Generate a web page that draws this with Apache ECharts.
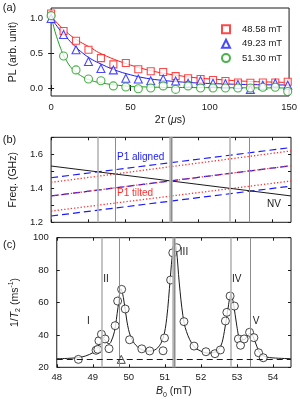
<!DOCTYPE html>
<html><head><meta charset="utf-8">
<script src="https://cdn.jsdelivr.net/npm/echarts@6/dist/echarts.min.js"></script>
<style>html,body{margin:0;padding:0;background:#fff}#c{width:300px;height:403px}</style>
</head><body><div id="c"></div>
<script>
// ---------- Panel (a): PL decay ----------
const tau = [0, 7.85, 15.7, 23.55, 31.4, 39.25, 47.1, 54.95, 62.8, 70.65, 78.5, 86.35, 94.2, 102.05, 109.9, 117.75, 125.6, 133.45, 141.3, 149.15];
const pl4858 = [1.07, 0.82, 0.68, 0.55, 0.43, 0.34, 0.36, 0.27, 0.24, 0.23, 0.17, 0.14, 0.13, 0.115, 0.10, 0.08, 0.076, 0.08, 0.08, 0.09];
const pl4923 = [1.0, 0.77, 0.55, 0.38, 0.28, 0.26, 0.14, 0.13, 0.105, 0.13, 0.10, 0.07, 0.105, 0.07, 0.06, 0.05, -0.02, 0.04, 0.07, 0.04];
const pl5130 = [1.04, 0.46, 0.26, 0.13, 0.105, 0.03, 0.015, -0.01, 0.0, 0.03, -0.02, 0.03, 0.0, 0.0, 0.0, 0.0, 0.0, 0.01, 0.01, -0.05];
const fitTau  = [0, 2, 4, 6, 8, 10, 12, 15, 20, 25, 30, 40, 50, 60, 70, 80, 90, 100, 110, 120, 130, 140, 150];
const fit4858 = [1.03, 0.98, 0.93, 0.88, 0.84, 0.80, 0.76, 0.71, 0.64, 0.58, 0.51, 0.41, 0.33, 0.265, 0.215, 0.18, 0.15, 0.13, 0.115, 0.10, 0.09, 0.085, 0.08];
const fit4923 = [1.0, 0.94, 0.88, 0.82, 0.77, 0.72, 0.67, 0.60, 0.50, 0.42, 0.36, 0.26, 0.19, 0.14, 0.11, 0.09, 0.075, 0.065, 0.058, 0.052, 0.048, 0.045, 0.043];
const fit5130 = [1.04, 0.85, 0.70, 0.57, 0.46, 0.38, 0.31, 0.24, 0.16, 0.11, 0.08, 0.045, 0.025, 0.015, 0.01, 0.008, 0.006, 0.005, 0.004, 0.003, 0.002, 0.001, 0.0];
const legendNames = ['48.58 mT', '49.23 mT', '51.30 mT'];
const tauTicks = [0, 50, 100, 150];
const plTicks = [0, 0.5, 1.0];

// ---------- Panel (b): transition frequencies ----------
const fieldEnds = [48, 54.5];
const nvFreq = [1.531, 1.355];
const p1Blue1 = [1.462, 1.640];
const p1Blue2 = [1.355, 1.533];
const p1Blue3 = [1.237, 1.413];
const p1Red1 = [1.435, 1.620];
const p1Red2 = [1.355, 1.533];
const p1Red3 = [1.266, 1.443];
const freqTicks = [1.2, 1.4, 1.6];
const freqMinorTicks = [1.2, 1.3, 1.4, 1.5, 1.6, 1.7];

// ---------- Panel (c): 1/T2 spectrum ----------
const b0 = [48.60, 49.09, 49.14, 49.17, 49.24, 49.34, 49.45, 49.62, 49.69, 49.80, 49.90, 50.02, 50.36, 50.58, 50.95, 50.99, 51.16, 51.22, 51.33, 51.53, 51.81, 52.14, 52.39, 52.54, 52.68, 52.72, 52.81, 52.93, 53.04, 53.10, 53.20, 53.35, 53.47, 53.60, 53.73];
const rate = [24.9, 30.5, 31.1, 36.4, 40.4, 37.5, 31.5, 45.7, 60.9, 68.1, 56.0, 37.0, 31.4, 30.1, 30.2, 38.1, 73.9, 90.7, 93.8, 48.2, 33.1, 29.6, 28.4, 30.7, 48.6, 53.9, 64.0, 57.8, 37.5, 33.6, 37.5, 41.6, 38.3, 29.0, 25.9];
const fitB0 =   [48.0, 48.3, 48.6, 48.8, 49.0, 49.1, 49.2, 49.3, 49.4, 49.45, 49.5, 49.6, 49.7, 49.78, 49.85, 49.95, 50.05, 50.2, 50.4, 50.6, 50.8, 50.95, 51.05, 51.15, 51.22, 51.27, 51.32, 51.4, 51.5, 51.6, 51.8, 52.0, 52.2, 52.4, 52.55, 52.65, 52.75, 52.83, 52.9, 53.0, 53.1, 53.2, 53.3, 53.38, 53.45, 53.55, 53.65, 53.8, 54.0, 54.5];
const fitRate = [25.3, 25.5, 26.0, 27.0, 29.0, 31.0, 35.0, 37.5, 35.0, 34.5, 35.5, 42.0, 57.0, 68.5, 63.0, 48.0, 39.0, 33.5, 30.5, 30.0, 32.0, 38.0, 50.0, 75.0, 92.0, 97.0, 93.0, 72.0, 52.0, 42.0, 33.0, 30.0, 28.8, 29.5, 33.0, 42.0, 56.0, 64.5, 60.0, 45.0, 37.0, 37.0, 40.0, 41.0, 39.0, 33.0, 28.5, 26.5, 25.8, 25.3];
const refB0 = [49.79];
const refRate = [24.9];
const baselineRate = 24.8;
const resonances = [49.26, 49.74, 51.25, 52.84, 53.36];
const resonanceLabels = ['I', 'II', 'III', 'IV', 'V'];
const b0Ticks = [48, 49, 50, 51, 52, 53, 54];
const rateTicks = [20, 40, 60, 80, 100];

// ---------- chart ----------
const FONT = 'Liberation Sans, Arial, sans-serif';
const INK = '#1a1a1a';
const RED = '#ff1a1a', BLUE = '#1a1aff', GREEN = '#1f9e1f';
const pairs = (xs, ys) => xs.map((x, i) => [x, ys[i]]);

const grids = [
  {left: 49.3, top: 8, width: 241.7, height: 88},
  {left: 49.3, top: 137.3, width: 241.7, height: 85},
  {left: 49.3, top: 237.7, width: 241.7, height: 129.6}
].map(g => Object.assign(g, {show: true, borderColor: INK, borderWidth: 1, backgroundColor: 'transparent'}));

function tickAxis(extra) {
  return Object.assign({
    axisLine: {show: false},
    axisTick: {show: true, inside: true, length: 3, lineStyle: {color: INK, width: 1}},
    axisLabel: {show: false},
    splitLine: {show: false}
  }, extra);
}
const labelStyle = {color: INK, fontSize: 9.5, fontFamily: FONT};
const rich = {
  i: {fontStyle: 'italic', fontSize: 10.5, fontFamily: FONT, color: INK, lineHeight: 14},
  n: {fontSize: 10.5, fontFamily: FONT, color: INK, lineHeight: 14},
  sub: {fontSize: 7, fontFamily: FONT, color: INK, lineHeight: 7, verticalAlign: 'bottom'},
  sup: {fontSize: 7, fontFamily: FONT, color: INK, lineHeight: 7, verticalAlign: 'top'}
};

const xAxis = [
  tickAxis({gridIndex: 0, type: 'value', min: 0, max: 150, position: 'bottom',
    axisTick: {show: true, inside: true, length: 3, lineStyle: {color: INK}, customValues: tauTicks},
    axisLabel: {show: true, customValues: tauTicks, margin: 6, ...labelStyle},
    name: '{n|2}{i|τ}{n| (}{i|μ}{n|s)}', nameLocation: 'middle', nameGap: 17, nameTextStyle: {rich}}),
  tickAxis({gridIndex: 0, type: 'value', min: 0, max: 150, position: 'top',
    axisTick: {show: true, inside: true, length: 3, lineStyle: {color: INK}, customValues: tauTicks}}),
  tickAxis({gridIndex: 1, type: 'value', min: 48, max: 54.5, position: 'bottom',
    axisTick: {show: true, inside: true, length: 3, lineStyle: {color: INK}, customValues: b0Ticks}}),
  tickAxis({gridIndex: 1, type: 'value', min: 48, max: 54.5, position: 'top',
    axisTick: {show: true, inside: true, length: 3, lineStyle: {color: INK}, customValues: b0Ticks}}),
  tickAxis({gridIndex: 2, type: 'value', min: 48, max: 54.5, position: 'bottom',
    axisTick: {show: true, inside: true, length: 3, lineStyle: {color: INK}, customValues: b0Ticks}},
  ),
  tickAxis({gridIndex: 2, type: 'value', min: 48, max: 54.5, position: 'top',
    axisTick: {show: true, inside: true, length: 3, lineStyle: {color: INK}, customValues: b0Ticks}})
];
xAxis[4].axisLabel = {show: true, customValues: b0Ticks, margin: 5, ...labelStyle};
xAxis[4].name = '{i|B}{sub|0}{n| (mT)}';
xAxis[4].nameLocation = 'middle';
xAxis[4].nameGap = 17;
xAxis[4].nameTextStyle = {rich};

const yAxis = [
  tickAxis({gridIndex: 0, type: 'value', min: -0.115, max: 1.15, position: 'left',
    axisTick: {show: true, inside: true, length: 3, lineStyle: {color: INK}, customValues: plTicks},
    axisLabel: {show: true, customValues: plTicks, margin: 8, formatter: v => v.toFixed(1), ...labelStyle},
    name: 'PL (arb. unit)', nameLocation: 'middle', nameGap: 22, nameTextStyle: {fontSize: 10.5, fontFamily: FONT, color: INK}}),
  tickAxis({gridIndex: 0, type: 'value', min: -0.115, max: 1.15, position: 'right',
    axisTick: {show: true, inside: true, length: 3, lineStyle: {color: INK}, customValues: plTicks}}),
  tickAxis({gridIndex: 1, type: 'value', min: 1.2, max: 1.7, position: 'left',
    axisTick: {show: true, inside: true, length: 3, lineStyle: {color: INK}, customValues: freqMinorTicks},
    axisLabel: {show: true, customValues: freqTicks, margin: 8, formatter: v => v.toFixed(1), ...labelStyle},
    name: 'Freq. (GHz)', nameLocation: 'middle', nameGap: 23, nameTextStyle: {fontSize: 10.5, fontFamily: FONT, color: INK}}),
  tickAxis({gridIndex: 1, type: 'value', min: 1.2, max: 1.7, position: 'right',
    axisTick: {show: true, inside: true, length: 3, lineStyle: {color: INK}, customValues: freqMinorTicks}}),
  tickAxis({gridIndex: 2, type: 'value', min: 20, max: 100, interval: 20, position: 'left',
    axisTick: {show: true, inside: true, length: 3, lineStyle: {color: INK}},
    axisLabel: {show: true, margin: 8, ...labelStyle},
    name: '{n|1/}{i|T}{sub|2}{n| (ms}{sup|-1}{n|)}', nameLocation: 'middle', nameGap: 28, nameTextStyle: {rich}}),
  tickAxis({gridIndex: 2, type: 'value', min: 20, max: 100, interval: 20, position: 'right',
    axisTick: {show: true, inside: true, length: 3, lineStyle: {color: INK}}})
];

function vlineData() {
  const out = [];
  resonances.forEach((x, i) => {
    if (i === 2) {
      out.push({xAxis: x, lineStyle: {color: '#b4b4b4', width: 3.5, type: 'solid'}});
      out.push({xAxis: x, lineStyle: {color: '#8c8c8c', width: 1, type: 'solid'}});
    } else if (i === 0 || i === 3) {
      out.push({xAxis: x, lineStyle: {color: '#b4b4b4', width: 1.6, type: 'solid'}});
    } else {
      out.push({xAxis: x, lineStyle: {color: '#8c8c8c', width: 1, type: 'solid'}});
    }
  });
  return out;
}

const hollow = (c, bw) => ({color: '#fff', borderColor: c, borderWidth: bw || 1.1});
const series = [];
// (a) fits
[[fit4858, RED], [fit4923, BLUE], [fit5130, GREEN]].forEach(([ys, c]) => {
  series.push({type: 'line', xAxisIndex: 0, yAxisIndex: 0, data: pairs(fitTau, ys), smooth: 0.4,
    showSymbol: false, lineStyle: {color: c, width: 1}, silent: true, z: 2});
});
// (a) points
[[pl4858, RED, 'rect', 7], [pl4923, BLUE, 'triangle', 8], [pl5130, GREEN, 'circle', 8]].forEach(([ys, c, sym, sz], k) => {
  series.push({type: 'scatter', name: legendNames[k], xAxisIndex: 0, yAxisIndex: 0, data: pairs(tau, ys),
    symbol: sym, symbolSize: sz, itemStyle: hollow(c), z: 3});
});
// (b) lines
const dashBlue = {color: BLUE, width: 1.2, type: [7, 4]};
const dotRed = {color: '#ff3030', width: 1.3, type: [1.3, 2]};
[[p1Blue1, dashBlue], [p1Blue3, dashBlue], [p1Red1, dotRed], [p1Red3, dotRed], [p1Blue2, dashBlue], [p1Red2, dotRed],
 [nvFreq, {color: INK, width: 1, type: 'solid'}]].forEach(([ys, ls]) => {
  series.push({type: 'line', xAxisIndex: 2, yAxisIndex: 2, data: pairs(fieldEnds, ys), showSymbol: false,
    lineStyle: ls, silent: true, z: 3});
});
// (b) vertical markers
series.push({type: 'line', xAxisIndex: 2, yAxisIndex: 2, data: [], silent: true, z: 1,
  markLine: {symbol: 'none', silent: true, label: {show: false}, animation: false, data: vlineData()}});
// (c) vertical markers + baseline
series.push({type: 'line', xAxisIndex: 4, yAxisIndex: 4, data: [], silent: true, z: 1,
  markLine: {symbol: 'none', silent: true, label: {show: false}, animation: false,
    data: vlineData().concat([{yAxis: baselineRate, lineStyle: {color: INK, width: 1, type: [6, 4]}}])}});
// (c) fit
series.push({type: 'line', xAxisIndex: 4, yAxisIndex: 4, data: pairs(fitB0, fitRate), smooth: 0.35,
  showSymbol: false, lineStyle: {color: INK, width: 1}, silent: true, z: 2});
// (c) points
series.push({type: 'scatter', xAxisIndex: 4, yAxisIndex: 4, data: pairs(b0, rate), symbol: 'circle',
  symbolSize: 8, itemStyle: hollow(INK, 1), z: 3});
series.push({type: 'scatter', xAxisIndex: 4, yAxisIndex: 4, data: pairs(refB0, refRate), symbol: 'triangle',
  symbolSize: 8, itemStyle: hollow(INK, 1), z: 3});

const txt = (text, x, y, opts) => ({type: 'text', x, y, z: 10, silent: true,
  style: Object.assign({text, fill: INK, fontSize: 10.5, fontFamily: FONT, align: 'center', verticalAlign: 'middle'}, opts || {})});
const labelPos = [[88.3, 321.5], [106, 279.3], [184, 252.3], [236.7, 279.3], [256, 321.5]];

const option = {
  animation: false,
  backgroundColor: '#fff',
  grid: grids,
  xAxis, yAxis, series,
  legend: {
    data: legendNames, orient: 'vertical', left: 221, top: 24.3, itemWidth: 8, itemHeight: 8, itemGap: 4.4,
    selectedMode: false, padding: 0,
    textStyle: {fontSize: 9.5, fontFamily: FONT, color: INK, padding: [0, 0, 0, 7]}
  },
  graphic: [
    txt('(a)', 9.5, 8, {fontSize: 11}),
    txt('(b)', 9.5, 139.5, {fontSize: 11}),
    txt('(c)', 9.5, 244.5, {fontSize: 11}),
    txt('P1 aligned', 117, 157, {fill: BLUE, align: 'left', fontSize: 10}),
    txt('P1 tilted', 117, 193.5, {fill: '#ff3030', align: 'left', fontSize: 10}),
    txt('NV', 274, 204.5, {fontSize: 10}),
    ...resonanceLabels.map((t, i) => txt(t, labelPos[i][0], labelPos[i][1], {fontSize: 10}))
  ]
};
const chart = echarts.init(document.getElementById('c'), null, {renderer: 'canvas'});
chart.setOption(option);
</script></body></html>
